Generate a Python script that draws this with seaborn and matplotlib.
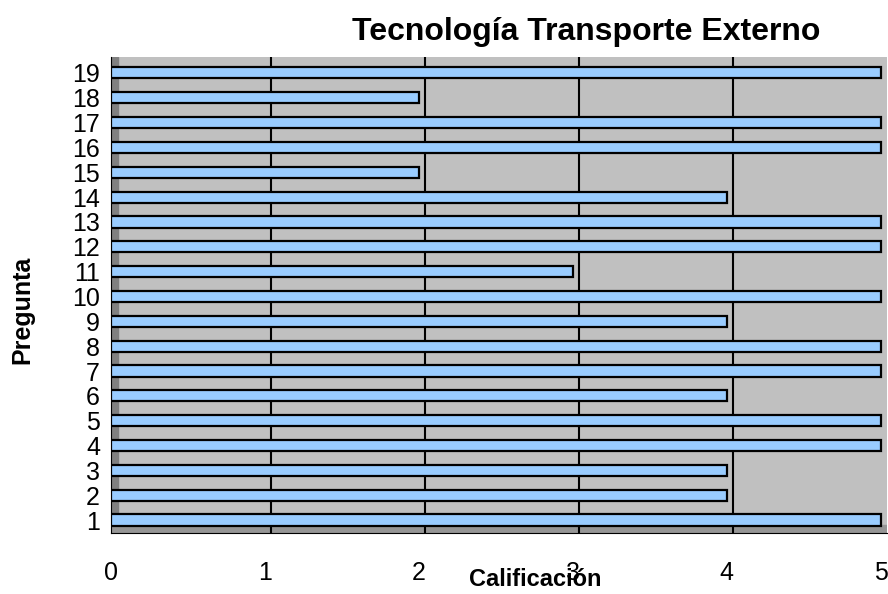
import matplotlib
matplotlib.use("Agg")
import matplotlib.pyplot as plt
import seaborn as sns
import pandas as pd
import numpy as np

# Datos: calificación por pregunta
preguntas = [str(i) for i in range(1, 20)]
calificacion = [5, 4, 4, 5, 5, 4, 5, 5, 4, 5, 3, 5, 5, 4, 2, 5, 5, 2, 5]
x_ticks = [0, 1, 2, 3, 4, 5]

df = pd.DataFrame({'pregunta': preguntas, 'calificacion': calificacion})

sns.set_style('white')
plt.rcParams['font.family'] = ['Liberation Sans', 'DejaVu Sans']
plt.rcParams['text.color'] = 'black'
plt.rcParams['xtick.color'] = 'black'
plt.rcParams['ytick.color'] = 'black'

fig = plt.figure(figsize=(8.88, 5.94), dpi=100)
ax = fig.add_axes([111 / 888, 1 - 533 / 594, 776 / 888, 476 / 594])
ax.set_facecolor('#C0C0C0')

# Orden inverso para que la pregunta 1 quede abajo
orden = preguntas[::-1]

# Pared izquierda y piso (efecto 3D)
ax.axvspan(0, 0.045, color='#808080', zorder=0.5)
ax.axhspan(18.52, 18.2, color='#969696', zorder=0.5)

# Rejilla vertical (en la pared del fondo, algo desplazada)
for v in x_ticks[1:-1]:
    ax.axvline(v + 0.04, color='black', lw=1.5, zorder=1)

sns.barplot(data=df, x='calificacion', y='pregunta', order=orden, orient='h',
            color='#99CCFF', edgecolor='black', linewidth=1.6, width=0.45,
            saturation=1, ax=ax, zorder=3)

ax.set_xlim(0, 5.04)
ax.set_ylim(18.52, -0.64)

ax.set_xticks(x_ticks)
ax.set_xticklabels([str(v) for v in x_ticks], fontsize=18, color='black')
ax.tick_params(axis='x', direction='out', length=8, width=1, color='black', pad=12)

ax.set_yticks(range(len(orden)))
ax.set_yticklabels(orden, fontsize=18, color='black')
ax.tick_params(axis='y', which='major', length=0, pad=8)
ax.set_yticks(np.arange(-0.5, len(orden)), minor=True)
ax.tick_params(axis='y', which='minor', direction='out', length=7, width=1, color='black')

for s in ['top', 'right']:
    ax.spines[s].set_visible(False)
ax.spines['left'].set_color('black')
ax.spines['bottom'].set_color('black')

ax.set_xlabel('')
ax.set_ylabel('')
fig.text(586 / 888, 1 - 32 / 594, 'Tecnología Transporte Externo', ha='center', va='center',
         fontsize=23, fontweight='bold', color='black')
fig.text(535 / 888, 1 - 580 / 594, 'Calificación', ha='center', va='center',
         fontsize=17, fontweight='bold', color='black')
fig.text(22 / 888, 1 - 310 / 594, 'Pregunta', ha='center', va='center', rotation=90,
         fontsize=18, fontweight='bold', color='black')

fig.savefig('out.png', dpi=100)
